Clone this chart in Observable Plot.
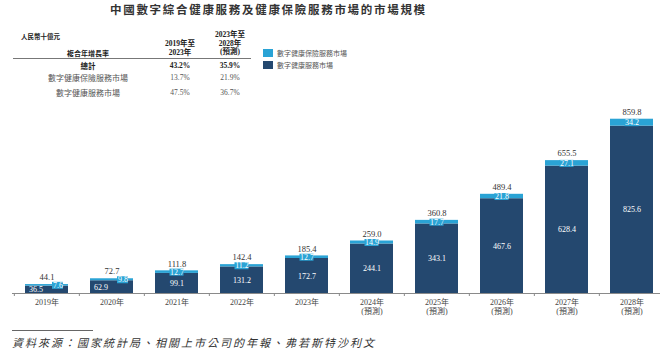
<!DOCTYPE html>
<html><head><meta charset="utf-8">
<script src="https://cdn.jsdelivr.net/npm/d3@7"></script>
<script src="https://cdn.jsdelivr.net/npm/@observablehq/plot@0.6"></script>
<style>
body{margin:0;background:#fff;}
#wrap{position:relative;width:660px;height:354px;overflow:hidden;font-family:"Noto Sans CJK TC",sans-serif;background:#fff;}
.abs{position:absolute;white-space:nowrap;line-height:1;}
.c{transform:translateX(-50%);text-align:center;}
.num{font-family:"Liberation Serif","Noto Sans CJK TC",serif;}
</style></head><body><div id="wrap"></div>
<script>
// ---- data ----
const years = ["2019年","2020年","2021年","2022年","2023年","2024年","2025年","2026年","2027年","2028年"];
const forecastYears = ["2024年","2025年","2026年","2027年","2028年"];
const insurance = [7.6, 9.8, 12.7, 11.2, 12.7, 14.9, 17.7, 21.8, 27.1, 34.2];
const services = [36.5, 62.9, 99.1, 131.2, 172.7, 244.1, 343.1, 467.6, 628.4, 825.6];
const totals = [44.1, 72.7, 111.8, 142.4, 185.4, 259.0, 360.8, 489.4, 655.5, 859.8];
const seriesNames = ["數字健康保險服務市場", "數字健康服務市場"];
const title = "中國數字綜合健康服務及健康保險服務市場的市場規模";
const unit = "人民幣十億元";
const cagrLabel = "複合年增長率";
const cagrCol1 = ["2019年至", "2023年"];
const cagrCol2 = ["2023年至", "2028年", "(預測)"];
const cagrRowNames = ["總計", "數字健康保險服務市場", "數字健康服務市場"];
const cagr1 = ["43.2%", "13.7%", "47.5%"];
const cagr2 = ["35.9%", "21.9%", "36.7%"];
const source = "資料來源：國家統計局、相關上市公司的年報、弗若斯特沙利文";

const LIGHT = "#2aa3d5", DARK = "#24486f";
const rows = years.map((y, i) => ({year: y, services: services[i], insurance: insurance[i], total: totals[i]}));
const stacked = rows.flatMap(r => [
  {year: r.year, series: seriesNames[1], value: r.services},
  {year: r.year, series: seriesNames[0], value: r.insurance}
]);
const small = rows.filter(r => r.total < 100);
const big = rows.filter(r => r.total >= 100);
const lightMid = d => d.services + d.insurance / 2;
const step = (665 - 12) / years.length;
const numFont = "'Liberation Serif','Noto Sans CJK TC',serif";

const chart = Plot.plot({
  width: 660, height: 354,
  marginLeft: 12, marginRight: 0, marginTop: 0, marginBottom: 61,
  style: {fontFamily: numFont, background: "transparent"},
  x: {domain: years, range: [12, 665], paddingInner: 0.34, paddingOuter: 0.17, axis: null, label: null},
  y: {domain: [0, 900], range: [293, 293 - 0.2027 * 900], axis: null},
  color: {domain: seriesNames, range: [LIGHT, DARK]},
  marks: [
    Plot.barY(stacked, {x: "year", y: "value", fill: "series"}),
    Plot.ruleY([0], {stroke: "#8a8a8a", strokeWidth: 1}),
    Plot.axisX({tickSize: 3, dx: -step / 2, tickFormat: () => "", stroke: "#8a8a8a", label: null}),
    Plot.axisX({tickSize: 0, tickPadding: 5, fontSize: 8, fill: "#444", lineHeight: 1.15, label: null,
      tickFormat: d => forecastYears.includes(d) ? d + "\n(預測)" : d}),
    // total labels
    Plot.text(rows, {x: "year", y: "total", text: d => d.total.toFixed(1), dy: -7, fontSize: 8.5, fill: "#333"}),
    // light label boxes + text (centered)
    Plot.tickY(big, {x: "year", y: lightMid, stroke: LIGHT, strokeWidth: 7, insetLeft: 14.5, insetRight: 14.5}),
    Plot.text(big, {x: "year", y: lightMid, text: d => d.insurance.toFixed(1), fill: "white", fontSize: 8}),
    // light label boxes + text (shifted, small bars)
    Plot.tickY(small, {x: "year", y: lightMid, stroke: LIGHT, strokeWidth: 7, insetLeft: 27, insetRight: 5}),
    Plot.text(small, {x: "year", y: lightMid, dx: 11, text: d => d.insurance.toFixed(1), fill: "white", fontSize: 8}),
    // dark labels
    Plot.text(big, {x: "year", y: d => d.services / 2, text: d => d.services.toFixed(1), fill: "white", fontSize: 8}),
    Plot.text(small, {x: "year", y: d => d.services / 2, dx: -11, text: d => d.services.toFixed(1), fill: "white", fontSize: 8})
  ]
});

const wrap = document.getElementById("wrap");
chart.style.position = "absolute";
chart.style.left = "0px";
chart.style.top = "0px";
wrap.appendChild(chart);

function add(text, x, cy, size, opts = {}) {
  const el = document.createElement("div");
  el.className = "abs" + (opts.center ? " c" : "") + (opts.num ? " num" : "");
  el.textContent = text;
  el.style.left = x + "px";
  el.style.top = (cy - size / 2) + "px";
  el.style.fontSize = size + "px";
  el.style.color = opts.color || "#333";
  if (opts.bold) el.style.fontWeight = "bold";
  if (opts.italic) el.style.fontStyle = "italic";
  if (opts.ls) el.style.letterSpacing = opts.ls + "px";
  wrap.appendChild(el);
  return el;
}
function box(x, y, w, h, color) {
  const el = document.createElement("div");
  el.style.cssText = `position:absolute;left:${x}px;top:${y}px;width:${w}px;height:${h}px;background:${color};`;
  wrap.appendChild(el);
}

// title
add(title, 110, 10, 11.5, {bold: true, ls: 1.7, color: "#333"});
// table
add(unit, 21, 36, 6.5, {bold: true, color: "#222"});
add(cagrLabel, 88, 53, 7, {bold: true, center: true, color: "#222"});
cagrCol1.forEach((t, i) => add(t, 180, 44 + i * 8.5, 7.5, {bold: true, center: true, num: true, color: "#222"}));
cagrCol2.forEach((t, i) => add(t, 230, 35 + i * 8.5, 7.5, {bold: true, center: true, num: true, color: "#222"}));
box(13, 57.5, 238, 1.2, "#777");
const rowY = [66, 78, 93];
cagrRowNames.forEach((t, i) => {
  const b = i === 0;
  add(t, 88, rowY[i], b ? 7.5 : 8, {bold: b, center: true, color: b ? "#222" : "#555"});
  add(cagr1[i], 180, rowY[i], 7.5, {bold: b, center: true, num: true, color: b ? "#222" : "#555"});
  add(cagr2[i], 230, rowY[i], 7.5, {bold: b, center: true, num: true, color: b ? "#222" : "#555"});
});
// legend
box(263, 49, 10, 8, LIGHT);
box(263, 61, 10, 8, DARK);
add(seriesNames[0], 277, 53, 7, {color: "#555"});
add(seriesNames[1], 277, 65, 7, {color: "#555"});
// source
box(12, 329.5, 81, 1, "#666");
add(source, 12, 342, 11, {italic: true, ls: 2, color: "#333"});
</script></body></html>
